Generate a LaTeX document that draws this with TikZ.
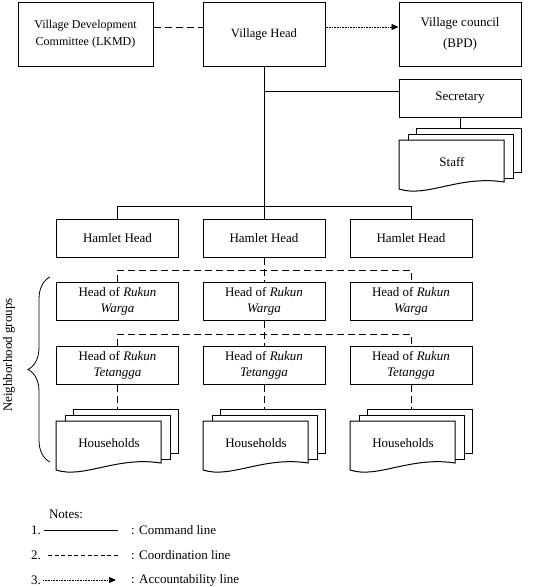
\documentclass[tikz,border=0pt]{standalone}
\usepackage{fontspec}
\setmainfont{Liberation Serif}
\usetikzlibrary{arrows.meta,decorations.pathreplacing}
\newcommand\docstack[4]{%
 \draw[boxline,fill=white] ({#2+17},{#3-12}) rectangle ({#2+17+105},{#3-12+44});
 \draw[boxline,fill=white] ({#2+9},{#3-6}) rectangle ({#2+9+105},{#3-6+44});
 \draw[boxline,fill=white] (#2,#3) -- ({#2+105},#3) -- ({#2+105},{#3+42}) .. controls ({#2+60},{#3+35}) and ({#2+28},{#3+58}) .. (#2,{#3+49}) -- cycle;
 \node[txt] (#1) at ({#2+53},{#3+22}) {#4};
 \coordinate (#1-top) at ({#2+17+53},{#3-12});
}
\begin{document}
\begin{tikzpicture}[x=1pt,y=-1pt,
  boxline/.style={line width=1pt},
  box/.style={draw,line width=1pt,rectangle,inner sep=0pt,minimum width=122pt,minimum height=38pt,align=center,font=\fontsize{13}{16}\selectfont},
  tallbox/.style={box,minimum height=64pt},
  txt/.style={inner sep=0pt,font=\fontsize{13}{16}\selectfont},
  cmdline/.style={line width=0.9pt},
  coordline/.style={line width=0.9pt,dash pattern=on 7pt off 4pt},
  acctline/.style={line width=0.9pt,dash pattern=on 0.8pt off 0.8pt},
  tip/.style={-{Triangle[length=7pt,width=6pt]}}
]
\useasboundingbox (0,0) rectangle (545,587);
% top row
\node[tallbox,minimum width=135pt,font=\fontsize{12}{17}\selectfont] (lkmd) at (85.5,34) {Village Development\\Committee (LKMD)};
\node[tallbox,font=\fontsize{12.6}{16}\selectfont] (vh) at (264,34) {Village Head};
\node[tallbox,font=\fontsize{13}{21}\selectfont] (bpd) at (460,34) {Village council\\(BPD)};
\node[box] (sec) at (460,98) {Secretary};
\docstack{staff}{399}{140}{Staff}
% hamlets
\node[box] (h1) at (117.5,238) {Hamlet Head};
\node[box] (h2) at (264,238) {Hamlet Head};
\node[box] (h3) at (411,238) {Hamlet Head};
% rukun warga
\node[box] (rw1) at (117.5,301) {Head of \textit{Rukun}\\\textit{Warga}};
\node[box] (rw2) at (264,301) {Head of \textit{Rukun}\\\textit{Warga}};
\node[box] (rw3) at (411,301) {Head of \textit{Rukun}\\\textit{Warga}};
% rukun tetangga
\node[box] (rt1) at (117.5,365) {Head of \textit{Rukun}\\\textit{Tetangga}};
\node[box] (rt2) at (264,365) {Head of \textit{Rukun}\\\textit{Tetangga}};
\node[box] (rt3) at (411,365) {Head of \textit{Rukun}\\\textit{Tetangga}};
% households
\docstack{hh1}{56}{421}{Households}
\docstack{hh2}{203}{421}{Households}
\docstack{hh3}{350}{421}{Households}
% connectors top
\draw[coordline] ([yshift=7pt]lkmd.east) -- ([yshift=7pt]vh.west);
\draw[acctline,tip] ([yshift=7pt]vh.east) -- ([yshift=7pt]bpd.west);
\coordinate (hj) at (264,206);
\coordinate (sj) at (264,91);
\draw[cmdline] (vh.south) -- (hj);
\draw[cmdline] (sj) -- ([yshift=7pt]sec.west);
\draw[cmdline] (sec.south) -- (sec.south |- staff-top);
\draw[cmdline] (h1.north) -- (h1.north |- hj) -- (h3.north |- hj) -- (h3.north);
\draw[cmdline] (hj) -- (h2.north);
% coordination
\coordinate (rj) at (264,270);
\draw[coordline] (h2.south) -- (rw2.north);
\draw[coordline] (rw1.north) -- (rw1.north |- rj) -- (rw3.north |- rj) -- (rw3.north);
\coordinate (tj) at (264,334);
\draw[coordline] (rw2.south) -- (rt2.north);
\draw[coordline] (rt1.north) -- (rt1.north |- tj) -- (rt3.north |- tj) -- (rt3.north);
\draw[coordline] (rt1.south) -- (rt1.south |- hh1-top);
\draw[coordline] (rt2.south) -- (rt2.south |- hh2-top);
\draw[coordline] (rt3.south) -- (rt3.south |- hh3-top);
% brace
\coordinate (bra) at (50,462);
\coordinate (brb) at (50,277);
\draw[line width=0.8pt,decorate,decoration={brace,amplitude=22pt}] (bra) -- (brb);
\node[txt,rotate=90] (ng) at (9,355) {Neighborhood groups};
% notes
\node[txt] (notes) at (66,514) {Notes:};
\node[txt,anchor=west] (n1) at (31,530) {1.};
\node[txt,anchor=west] (n2) at (31,555) {2.};
\node[txt,anchor=west] (n3) at (31,580) {3.};
\coordinate (l1a) at (44,530); \coordinate (l1b) at (118,530);
\coordinate (l2a) at (48,555); \coordinate (l2b) at (120,555);
\coordinate (l3a) at (43,580); \coordinate (l3b) at (116,580);
\draw[cmdline] (l1a) -- (l1b);
\draw[line width=0.9pt,dash pattern=on 4pt off 2.6pt] (l2a) -- (l2b);
\draw[acctline,tip] (l3a) -- (l3b);
\node[txt,anchor=west] (t1) at (131,530) {: Command line};
\node[txt,anchor=west] (t2) at (131,555) {: Coordination line};
\node[txt,anchor=west] (t3) at (131,580) {: Accountability line};
\end{tikzpicture}
\end{document}
